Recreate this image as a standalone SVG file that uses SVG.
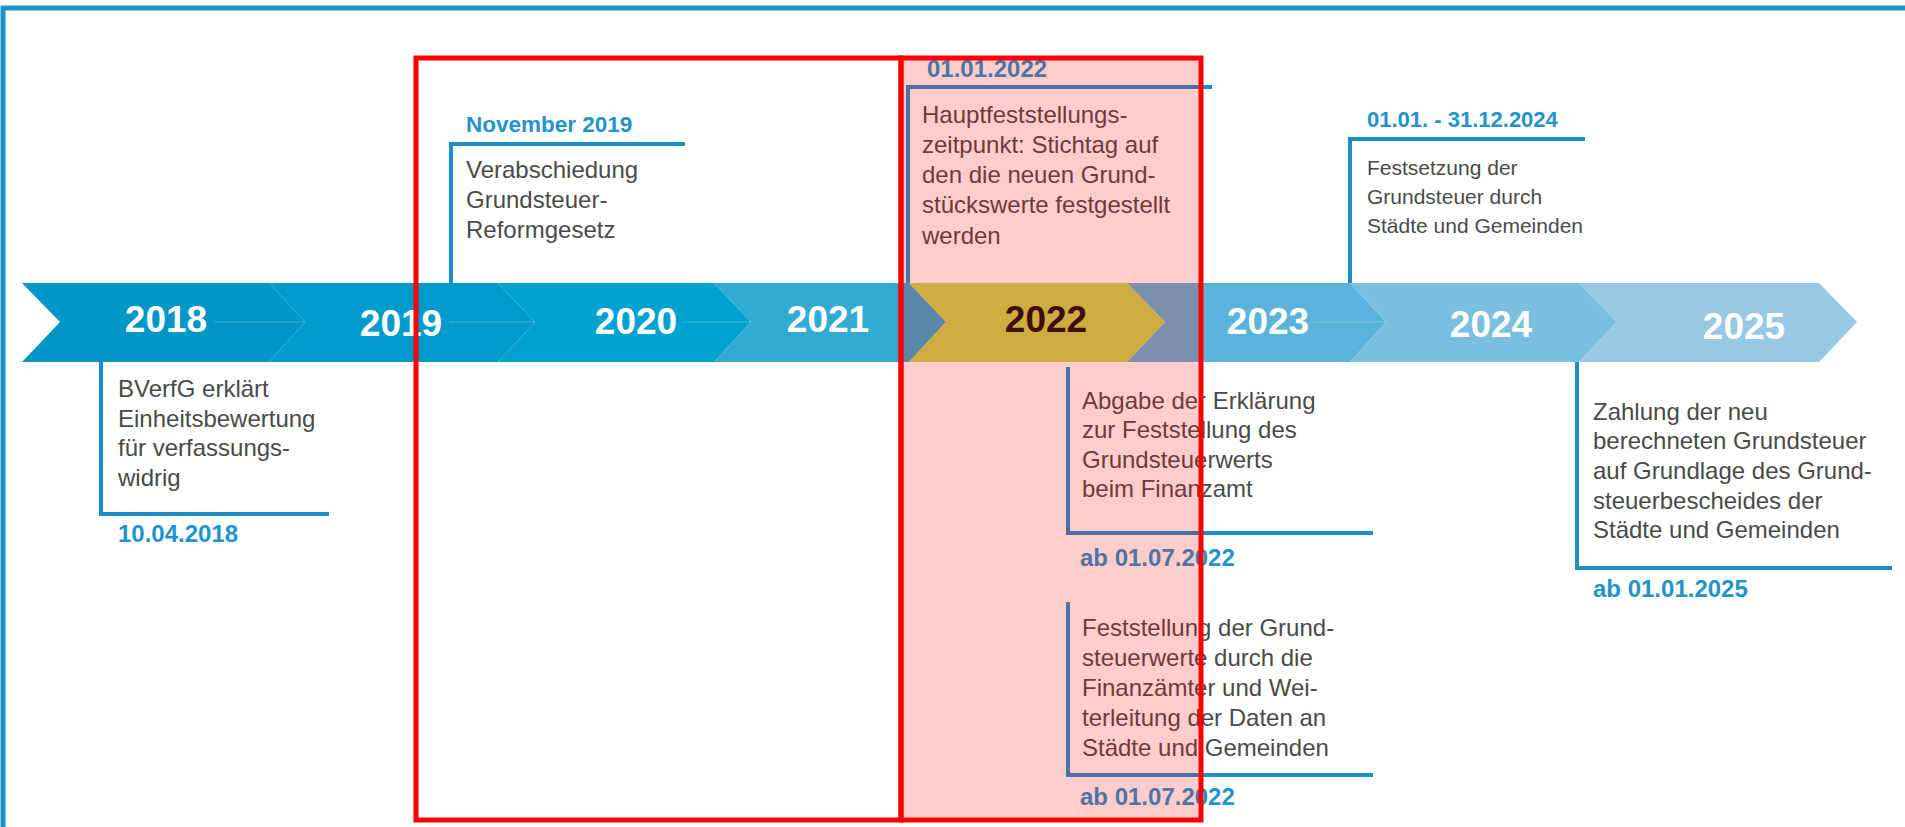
<svg xmlns="http://www.w3.org/2000/svg" width="1905" height="827" viewBox="0 0 1905 827">
<style>
.frame{fill:none;stroke:#1a94cb;stroke-width:5}
.co{fill:none;stroke:#1a8fca;stroke-width:4}
.yr{font-family:"Liberation Sans",Arial,sans-serif;font-weight:bold;font-size:37px;fill:#ffffff;text-anchor:middle}
.yr22{fill:#111111}
.lbl{font-family:"Liberation Sans",Arial,sans-serif;font-weight:bold;font-size:24px;fill:#1f93cc}
.txt{font-family:"Liberation Sans",Arial,sans-serif;font-size:24px;fill:#4a4a4a}
.sm{font-size:21px}
.thin{stroke:#ffffff;stroke-opacity:0.12;stroke-width:2}
</style>
<rect x="0" y="0" width="1905" height="827" fill="#ffffff"/>
<path class="frame" d="M3,827 V8 H1905"/>

<g id="band">
  <polygon points="22,283 269,283 305,322 269,362 22,362 60,322" fill="#0096c8"/>
  <polygon points="269,283 498,283 535,322 498,362 269,362 305,322" fill="#009bcc"/>
  <polygon points="498,283 714,283 751,322 714,362 498,362 535,322" fill="#00a2d0"/>
  <polygon points="714,283 909,283 946,322 909,362 714,362 751,322" fill="#31aad4"/>
  <polygon points="1127,283 1350,283 1386,322 1350,362 1127,362 1165,322" fill="#5ab3da"/>
  <polygon points="1350,283 1579,283 1617,322 1579,362 1350,362 1386,322" fill="#7abee0"/>
  <polygon points="1579,283 1819,283 1857,322 1819,362 1579,362 1617,322" fill="#97c8e4"/>
  <polygon points="909,283 1127,283 1165,322 1127,362 909,362 946,322" fill="#c3d850"/>
  <line class="thin" x1="214" y1="322" x2="304" y2="322"/>
  <line class="thin" x1="449" y1="322" x2="535" y2="322"/>
  <line class="thin" x1="682" y1="322" x2="751" y2="322"/>
  <line class="thin" x1="1313" y1="322" x2="1386" y2="322"/>
  <text class="yr" x="166" y="332">2018</text>
  <text class="yr" x="401" y="336">2019</text>
  <text class="yr" x="636" y="334">2020</text>
  <text class="yr" x="828" y="332">2021</text>
  <text class="yr yr22" x="1046" y="332">2022</text>
  <text class="yr" x="1268" y="334">2023</text>
  <text class="yr" x="1491" y="337">2024</text>
  <text class="yr" x="1744" y="339">2025</text>
</g>

<g id="connectors">
  <polyline class="co" points="101,362 101,514 329,514"/>
  <polyline class="co" points="451,283 451,144 685,144"/>
  <polyline class="co" points="908,283 908,87 1212,87"/>
  <polyline class="co" points="1350,283 1350,139 1585,139"/>
  <polyline class="co" points="1068,367 1068,533 1373,533"/>
  <polyline class="co" points="1068,602 1068,775 1373,775"/>
  <polyline class="co" points="1577,362 1577,568 1892,568"/>
</g>

<g id="n2018">
  <text class="txt" x="118" y="397">BVerfG erklärt</text>
  <text class="txt" x="118" y="427">Einheitsbewertung</text>
  <text class="txt" x="118" y="456">für verfassungs-</text>
  <text class="txt" x="118" y="486">widrig</text>
  <text class="lbl" x="118" y="542">10.04.2018</text>
</g>

<g id="n2019">
  <text class="lbl" x="466" y="132" style="font-size:22.5px">November 2019</text>
  <text class="txt" x="466" y="178">Verabschiedung</text>
  <text class="txt" x="466" y="208">Grundsteuer-</text>
  <text class="txt" x="466" y="238">Reformgesetz</text>
</g>

<g id="n2022a">
  <text class="lbl" x="927" y="77">01.01.2022</text>
  <text class="txt" x="922" y="123">Hauptfeststellungs-</text>
  <text class="txt" x="922" y="153">zeitpunkt: Stichtag auf</text>
  <text class="txt" x="922" y="183">den die neuen Grund-</text>
  <text class="txt" x="922" y="213">stückswerte festgestellt</text>
  <text class="txt" x="922" y="244">werden</text>
</g>

<g id="n2024">
  <text class="lbl" x="1367" y="127" style="font-size:22px">01.01. - 31.12.2024</text>
  <text class="txt sm" x="1367" y="175">Festsetzung der</text>
  <text class="txt sm" x="1367" y="204">Grundsteuer durch</text>
  <text class="txt sm" x="1367" y="233">Städte und Gemeinden</text>
</g>

<g id="n2022b">
  <text class="txt" x="1082" y="409">Abgabe der Erklärung</text>
  <text class="txt" x="1082" y="438">zur Feststellung des</text>
  <text class="txt" x="1082" y="468">Grundsteuerwerts</text>
  <text class="txt" x="1082" y="497">beim Finanzamt</text>
  <text class="lbl" x="1080" y="566">ab 01.07.2022</text>
</g>

<g id="n2022c">
  <text class="txt" x="1082" y="636">Feststellung der Grund-</text>
  <text class="txt" x="1082" y="666">steuerwerte durch die</text>
  <text class="txt" x="1082" y="696">Finanzämter und Wei-</text>
  <text class="txt" x="1082" y="726">terleitung der Daten an</text>
  <text class="txt" x="1082" y="756">Städte und Gemeinden</text>
  <text class="lbl" x="1080" y="805">ab 01.07.2022</text>
</g>

<g id="n2025">
  <text class="txt" x="1593" y="420">Zahlung der neu</text>
  <text class="txt" x="1593" y="449">berechneten Grundsteuer</text>
  <text class="txt" x="1593" y="479">auf Grundlage des Grund-</text>
  <text class="txt" x="1593" y="509">steuerbescheides der</text>
  <text class="txt" x="1593" y="538">Städte und Gemeinden</text>
  <text class="lbl" x="1593" y="597">ab 01.01.2025</text>
</g>

<g id="highlights">
  <rect x="416" y="58" width="485" height="762" fill="none" stroke="#ff0000" stroke-width="5"/>
  <rect x="901" y="58" width="300" height="762" fill="#ff0000" fill-opacity="0.2" stroke="#ff0000" stroke-width="5"/>
</g>
</svg>
